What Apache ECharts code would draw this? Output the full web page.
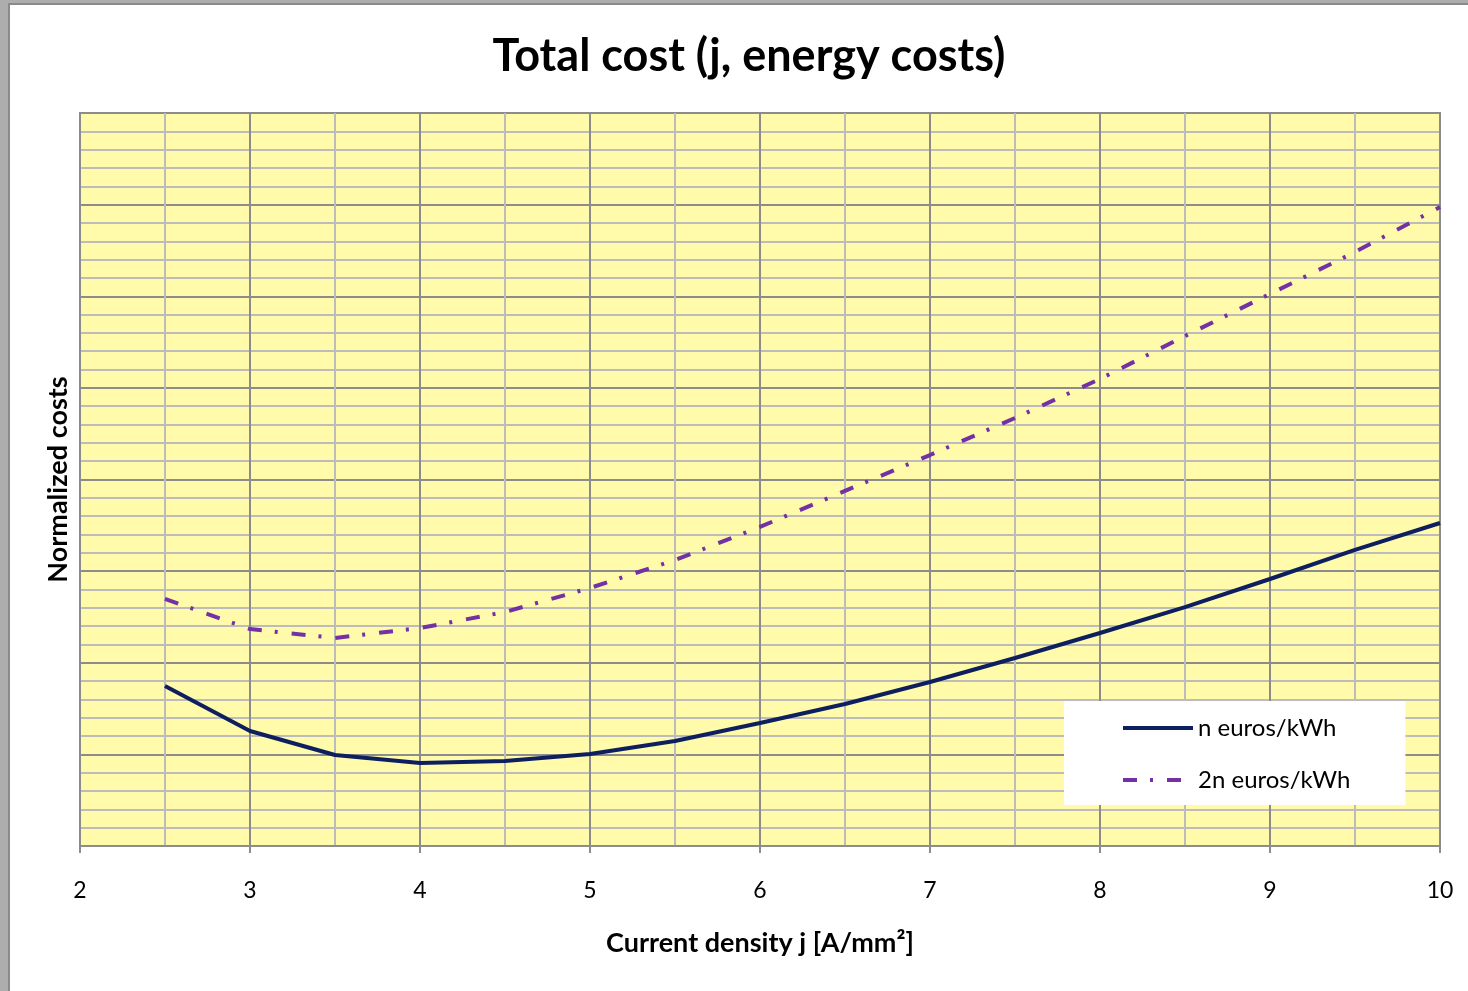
<!DOCTYPE html>
<html>
<head>
<meta charset="utf-8">
<title>Total cost (j, energy costs)</title>
<script src="https://cdn.jsdelivr.net/npm/echarts@6/dist/echarts.min.js"></script>
<style>
  html, body { margin: 0; padding: 0; background: #ffffff; }
  #chart { width: 1468px; height: 991px; }
</style>
</head>
<body>
<div id="chart"></div>
<script>
// Current density j [A/mm²]
const currentDensity = [2.5, 3, 3.5, 4, 4.5, 5, 5.5, 6, 6.5, 7, 7.5, 8, 8.5, 9, 9.5, 10];
// Normalized total cost at an energy price of n euros/kWh
const costN = [1.746, 1.255, 0.993, 0.906, 0.928, 1.004, 1.146, 1.342, 1.550, 1.790, 2.052, 2.325, 2.608, 2.914, 3.231, 3.525];
// Normalized total cost at an energy price of 2n euros/kWh
const cost2N = [2.696, 2.368, 2.270, 2.379, 2.554, 2.816, 3.121, 3.482, 3.875, 4.267, 4.671, 5.097, 5.566, 6.025, 6.483, 6.974];
const seriesNames = ['n euros/kWh', '2n euros/kWh'];
const xTicks = [2, 3, 4, 5, 6, 7, 8, 9, 10];

const FONT = 'Lato, "Open Sans", "Noto Sans", sans-serif';

const chart = echarts.init(document.getElementById('chart'), null, { renderer: 'canvas' });

chart.setOption({
  backgroundColor: '#ffffff',
  animation: false,
  title: {
    text: 'Total cost (j, energy costs)',
    left: 744,
    top: 29,
    textAlign: 'center',
    textStyle: { fontFamily: FONT, fontWeight: 'bold', fontSize: 45, color: '#000000' }
  },
  legend: {
    orient: 'vertical',
    left: 1064,
    top: 701,
    padding: [15, 55, 13, 57],
    backgroundColor: '#ffffff',
    itemWidth: 70,
    itemHeight: 14,
    itemGap: 28,
    itemStyle: { opacity: 0 },
    lineStyle: { width: 4 },
    textStyle: { fontFamily: FONT, fontSize: 24, color: '#000000' },
    data: seriesNames
  },
  grid: {
    left: 80,
    top: 113,
    right: 28,
    bottom: 145,
    show: true,
    backgroundColor: '#fffbab',
    borderColor: '#8c8c8c',
    borderWidth: 2
  },
  xAxis: {
    type: 'value',
    min: xTicks[0],
    max: xTicks[xTicks.length - 1],
    interval: 1,
    name: 'Current density j [A/mm²]',
    nameLocation: 'middle',
    nameGap: 84,
    nameTextStyle: { fontFamily: FONT, fontWeight: 'bold', fontSize: 27, color: '#000000' },
    axisLine: { show: true, lineStyle: { color: '#8c8c8c', width: 2 } },
    axisTick: { show: true, inside: false, length: 7, lineStyle: { color: '#8c8c8c', width: 2 } },
    axisLabel: { margin: 33, fontFamily: FONT, fontSize: 23, color: '#000000' },
    splitLine: { show: true, lineStyle: { color: '#8c8c8c', width: 2 } },
    minorTick: { show: false, splitNumber: 2 },
    minorSplitLine: { show: true, lineStyle: { color: '#bcbcbc', width: 2 } }
  },
  yAxis: {
    type: 'value',
    min: 0,
    max: 8,
    interval: 1,
    name: 'Normalized costs',
    nameLocation: 'middle',
    nameGap: 8,
    nameTextStyle: { fontFamily: FONT, fontWeight: 'bold', fontSize: 27, color: '#000000' },
    axisLine: { show: true, lineStyle: { color: '#8c8c8c', width: 2 } },
    axisTick: { show: false },
    axisLabel: { show: false },
    splitLine: { show: true, lineStyle: { color: '#8c8c8c', width: 2 } },
    minorTick: { show: false, splitNumber: 5 },
    minorSplitLine: { show: true, lineStyle: { color: '#bcbcbc', width: 2 } }
  },
  series: [
    {
      name: seriesNames[0],
      type: 'line',
      symbol: 'none',
      z: 3,
      data: currentDensity.map((x, i) => [x, costN[i]]),
      lineStyle: { color: '#0d1f5e', width: 4, type: 'solid' },
      itemStyle: { color: '#0d1f5e' }
    },
    {
      name: seriesNames[1],
      type: 'line',
      symbol: 'none',
      z: 3,
      data: currentDensity.map((x, i) => [x, cost2N[i]]),
      lineStyle: { color: '#7331a3', width: 4, type: [14, 13, 3, 14], cap: 'butt' },
      itemStyle: { color: '#7331a3' }
    }
  ],
  graphic: [
    // window frame along the left and top edges
    { type: 'rect', left: 0, top: 0, shape: { width: 8, height: 991 }, style: { fill: '#adadad' }, silent: true },
    { type: 'rect', left: 0, top: 0, shape: { width: 1468, height: 3 }, style: { fill: '#adadad' }, silent: true },
    { type: 'rect', left: 8, top: 3, shape: { width: 2, height: 988 }, style: { fill: '#8a8a8a' }, silent: true },
    { type: 'rect', left: 8, top: 3, shape: { width: 1460, height: 2 }, style: { fill: '#8a8a8a' }, silent: true }
  ]
});
</script>
</body>
</html>
